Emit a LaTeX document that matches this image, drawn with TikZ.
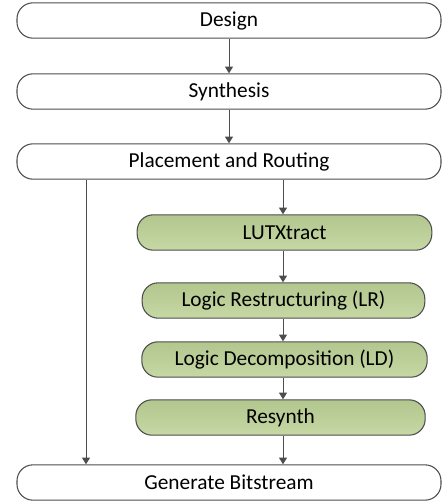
\documentclass[tikz,border=0pt]{standalone}
\usepackage{fontspec}
\setmainfont{Carlito}
\usetikzlibrary{arrows.meta}

\definecolor{stepline}{HTML}{4D4D4D}
\definecolor{greentop}{HTML}{B2C68E}
\definecolor{greenbot}{HTML}{C6D8A4}

\tikzset{
  flow/.style={draw=stepline, line width=0.8pt, rounded corners=12,
    minimum height=26.5pt, inner sep=0pt,
    font=\fontsize{16}{19}\selectfont},
  plain/.style={flow, fill=white, minimum width=318pt},
  green/.style={flow, top color=greentop, bottom color=greenbot},
  link/.style={draw=stepline, line width=0.7pt,
    -{Triangle[width=6pt,length=5pt]}}
}

\begin{document}
\begin{tikzpicture}[x=0.75pt, y=-0.75pt]
            \useasboundingbox (0,0) rectangle (442,502);

            \node[plain] (design) at (229, 20.5) {Design};
            \node[plain] (synth) at (229, 91.5) {Synthesis};
            \node[plain] (pnr) at (229, 161.5) {Placement and Routing};
            \node[green, minimum width=221pt] (lutx) at (284.5, 232.5) {LUTXtract};
            \node[green, minimum width=212pt] (lr) at (283.5, 300.5) {Logic Restructuring (LR)};
            \node[green, minimum width=214pt] (ld) at (284.5, 359.5) {Logic Decomposition (LD)};
            \node[green, minimum width=217pt] (resyn) at (280.5, 417.5) {Resynth};
            \node[plain] (bit) at (229, 482.5) {Generate Bitstream};

            \draw[link] (design) -- (synth);
            \draw[link] (synth) -- (pnr);
            \draw[link] (pnr.south -| 283,0) -- (lutx.north -| 283,0);
            \draw[link] (lutx.south -| 283,0) -- (lr.north -| 283,0);
            \draw[link] (lr.south -| 283,0) -- (ld.north -| 283,0);
            \draw[link] (ld.south -| 283,0) -- (resyn.north -| 283,0);
            \draw[link] (resyn.south -| 283,0) -- (bit.north -| 283,0);
            \draw[link] (pnr.south -| 86,0) -- (bit.north -| 86,0);
        \end{tikzpicture}
\end{document}
